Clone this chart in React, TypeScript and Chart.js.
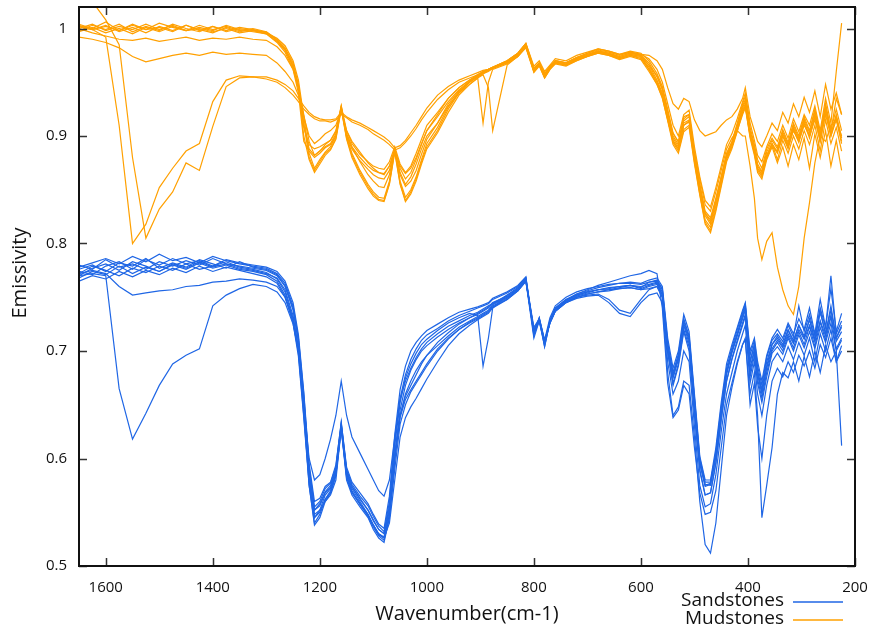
import React, { useEffect, useRef } from "react";
import { Chart, registerables } from "chart.js";
Chart.register(...registerables);

// Wavenumber grid (cm-1), shared by every spectrum
const WN = [
  1650, 1625, 1600, 1575, 1550, 1525, 1500, 1475, 1450, 1425, 1400, 1375, 1350, 1325, 1300,
  1280, 1265, 1250, 1240, 1230, 1220, 1210, 1200, 1190, 1180, 1170, 1160, 1150, 1140, 1125,
  1110, 1100, 1090, 1080, 1070, 1060, 1050, 1040, 1030, 1020, 1010, 1000,
  980, 960, 940, 920, 905, 895, 885, 877, 850, 830, 815, 800, 790, 780, 770, 760, 740, 720,
  700, 680, 660, 640, 620, 600,
  585, 570, 560, 550, 540, 530, 520, 510, 500, 490, 480, 470, 460, 450, 440, 430, 420, 410,
  405, 396, 388, 382, 374, 365, 355, 345, 335, 325, 315, 305, 295, 285, 275, 265, 255, 245, 235, 225,
];

const X_TICKS = [1600, 1400, 1200, 1000, 800, 600, 400, 200];
const Y_TICKS = [0.5, 0.6, 0.7, 0.8, 0.9, 1];
const GROUP_NAMES = ["Sandstones", "Mudstones"];
const X_TITLE = "Wavenumber(cm-1)";
const Y_TITLE = "Emissivity";

// Sandstones
const sand1 = [
  .770, .772, .770, .665, .618, .642, .668, .688, .696, .702, .742, .752, .758, .762, .760,
  .755, .745, .725, .700, .650, .600, .580, .585, .600, .618, .640, .672, .640, .620, .605, .590, .580, .570, .565, .580, .620, .655, .672, .684, .694, .702, .708,
  .716, .723, .728, .733, .736, .739, .742, .744, .752, .758, .766, .716, .728, .706, .727, .738, .746, .751, .754, .757, .757, .759, .761, .758,
  .761, .763, .753, .702, .675, .692, .724, .707, .650, .595, .575, .577, .605, .645, .678, .698, .714, .730, .738, .684, .702, .678, .660, .684, .702, .710, .703, .716, .707, .720, .711, .724, .709, .728, .714, .733, .709, .718,
];
const sand2 = [
  .772, .775, .772, .760, .752, .754, .756, .757, .760, .761, .764, .765, .767, .766, .764,
  .760, .750, .730, .702, .648, .582, .548, .552, .560, .566, .580, .628, .582, .568, .558, .548, .538, .530, .527, .552, .605, .645, .668, .682, .692, .700, .705,
  .713, .720, .726, .731, .734, .737, .740, .744, .750, .757, .766, .722, .730, .710, .726, .737, .745, .750, .753, .755, .757, .758, .759, .757,
  .758, .760, .750, .698, .668, .686, .718, .700, .640, .588, .566, .568, .596, .636, .672, .692, .708, .724, .732, .676, .696, .670, .652, .676, .698, .704, .697, .712, .700, .715, .703, .718, .702, .722, .708, .726, .700, .710,
];
const sand3 = [
  .780, .776, .785, .778, .781, .776, .783, .779, .784, .780, .786, .781, .779, .777, .775,
  .770, .760, .738, .708, .655, .590, .552, .556, .568, .573, .588, .632, .588, .574, .562, .552, .543, .534, .530, .556, .612, .652, .675, .688, .698, .706, .711,
  .719, .726, .731, .735, .733, .686, .712, .740, .752, .759, .768, .716, .731, .708, .729, .740, .748, .752, .755, .757, .759, .760, .761, .759,
  .764, .766, .758, .705, .678, .695, .728, .712, .655, .598, .576, .575, .602, .642, .680, .700, .716, .734, .742, .690, .706, .682, .664, .690, .706, .714, .706, .720, .710, .724, .714, .729, .710, .738, .716, .738, .712, .722,
];
const sand4 = [
  .768, .774, .771, .779, .772, .778, .774, .780, .776, .782, .777, .780, .776, .774, .771,
  .765, .752, .728, .698, .640, .578, .545, .552, .566, .572, .590, .630, .586, .572, .560, .548, .538, .530, .526, .540, .580, .620, .638, .648, .656, .665, .674,
  .690, .705, .716, .724, .729, .732, .735, .740, .748, .756, .765, .718, .729, .709, .727, .738, .746, .750, .752, .753, .748, .738, .735, .748,
  .757, .760, .750, .690, .660, .672, .700, .690, .630, .575, .555, .558, .585, .625, .660, .680, .700, .716, .724, .670, .690, .660, .640, .668, .690, .698, .690, .704, .692, .708, .696, .712, .690, .716, .700, .720, .690, .700,
];
const sand5 = [
  .772, .779, .775, .770, .777, .773, .779, .775, .781, .776, .779, .783, .778, .776, .773,
  .767, .755, .730, .700, .645, .575, .538, .545, .560, .568, .584, .628, .580, .566, .555, .545, .534, .526, .522, .545, .598, .640, .660, .672, .682, .690, .696,
  .705, .714, .722, .728, .732, .735, .738, .743, .750, .757, .765, .720, .729, .708, .726, .737, .745, .749, .751, .752, .745, .735, .732, .745,
  .752, .754, .745, .680, .640, .648, .672, .668, .620, .560, .520, .512, .540, .590, .640, .666, .688, .706, .710, .660, .680, .640, .545, .575, .610, .660, .680, .675, .690, .672, .695, .676, .700, .680, .705, .690, .700, .612,
];
const sand6 = [
  .778, .782, .786, .781, .788, .783, .790, .784, .787, .782, .788, .784, .781, .779, .777,
  .772, .763, .742, .712, .660, .592, .555, .560, .572, .577, .592, .634, .590, .576, .565, .556, .546, .537, .532, .560, .616, .656, .678, .692, .702, .710, .715,
  .721, .728, .733, .737, .740, .742, .744, .748, .754, .760, .768, .714, .730, .704, .728, .740, .748, .753, .756, .759, .761, .763, .764, .763,
  .766, .768, .760, .712, .684, .700, .734, .718, .660, .602, .580, .580, .610, .652, .688, .706, .722, .738, .745, .700, .712, .690, .672, .696, .712, .720, .712, .726, .716, .730, .720, .740, .716, .748, .722, .758, .718, .735,
];
const sand7 = [
  .765, .770, .767, .774, .769, .775, .771, .777, .773, .779, .774, .778, .775, .772, .769,
  .763, .750, .726, .695, .638, .575, .540, .548, .562, .570, .586, .628, .584, .570, .558, .546, .536, .528, .524, .545, .590, .632, .650, .662, .670, .678, .686,
  .700, .711, .720, .727, .731, .734, .737, .742, .749, .756, .765, .712, .728, .704, .727, .738, .747, .753, .757, .761, .764, .767, .770, .772,
  .775, .772, .740, .670, .638, .645, .668, .660, .610, .568, .548, .550, .570, .610, .650, .670, .690, .706, .712, .650, .670, .630, .600, .640, .672, .684, .676, .690, .680, .696, .686, .700, .684, .706, .694, .712, .690, .705,
];
const sand8 = [
  .774, .771, .779, .783, .776, .785, .780, .786, .781, .784, .779, .785, .782, .780, .778,
  .774, .765, .745, .715, .662, .595, .560, .563, .574, .578, .594, .633, .592, .578, .568, .558, .548, .539, .535, .565, .622, .664, .686, .700, .708, .714, .719,
  .725, .731, .736, .739, .741, .743, .745, .749, .755, .761, .769, .718, .731, .710, .731, .742, .750, .755, .758, .760, .762, .763, .763, .762,
  .764, .765, .757, .708, .680, .697, .730, .714, .657, .600, .578, .578, .606, .648, .684, .703, .720, .736, .744, .696, .710, .686, .668, .694, .710, .716, .709, .724, .713, .742, .718, .734, .714, .740, .722, .770, .716, .728,
];
const sand9 = [
  .776, .780, .774, .782, .779, .786, .777, .782, .778, .785, .781, .777, .783, .778, .776,
  .771, .761, .740, .710, .656, .588, .552, .558, .569, .575, .590, .631, .588, .574, .563, .552, .542, .534, .530, .552, .602, .640, .658, .668, .678, .688, .696,
  .708, .717, .725, .731, .735, .738, .741, .745, .751, .758, .767, .716, .729, .707, .728, .739, .747, .752, .755, .757, .758, .760, .761, .760,
  .762, .764, .755, .704, .676, .694, .726, .710, .652, .596, .574, .576, .604, .644, .680, .700, .716, .732, .740, .690, .706, .680, .662, .686, .706, .712, .704, .719, .708, .724, .712, .730, .710, .736, .716, .742, .712, .724,
];
const sand10 = [
  .770, .777, .781, .775, .783, .779, .774, .781, .777, .783, .778, .781, .777, .775, .772,
  .768, .757, .733, .703, .650, .582, .545, .550, .562, .568, .585, .629, .584, .569, .557, .547, .538, .529, .526, .548, .600, .638, .655, .664, .672, .680, .688,
  .702, .712, .720, .726, .730, .733, .736, .741, .748, .756, .765, .720, .729, .709, .726, .737, .745, .750, .753, .755, .756, .758, .759, .757,
  .760, .762, .752, .700, .670, .688, .720, .704, .645, .590, .566, .568, .596, .636, .672, .693, .710, .726, .734, .680, .700, .674, .656, .680, .700, .708, .700, .714, .703, .718, .706, .723, .704, .727, .710, .732, .702, .712,
];

// Mudstones
const mud1 = [
  1.002, .999, .992, .910, .800, .818, .852, .870, .886, .893, .932, .952, .956, .955, .955,
  .952, .948, .942, .935, .928, .922, .918, .916, .915, .915, .916, .922, .918, .915, .912, .908, .905, .902, .899, .895, .889, .891, .896, .903, .910, .918, .926,
  .938, .946, .952, .956, .959, .961, .962, .964, .969, .975, .983, .962, .967, .957, .964, .969, .967, .972, .975, .978, .976, .972, .975, .972,
  .962, .950, .938, .918, .898, .890, .912, .915, .880, .855, .830, .824, .842, .862, .882, .893, .908, .922, .928, .902, .887, .872, .866, .882, .893, .878, .896, .884, .900, .888, .905, .892, .910, .886, .915, .893, .908, .886,
];
const mud2 = [
  1.030, 1.025, 1.008, .985, .880, .805, .832, .848, .875, .868, .909, .946, .954, .955, .953,
  .950, .945, .938, .932, .925, .920, .916, .914, .914, .913, .915, .920, .917, .913, .910, .906, .902, .899, .896, .892, .887, .889, .894, .900, .907, .915, .922,
  .934, .943, .950, .954, .957, .959, .961, .963, .968, .974, .982, .960, .966, .955, .963, .968, .966, .971, .974, .977, .975, .971, .974, .971,
  .960, .948, .935, .915, .895, .888, .910, .913, .878, .852, .828, .822, .840, .860, .880, .890, .905, .920, .926, .900, .885, .870, .864, .880, .890, .886, .900, .890, .905, .895, .910, .900, .915, .895, .920, .900, .915, .893,
];
const mud3 = [
  .992, .990, .987, .982, .974, .969, .972, .975, .977, .975, .978, .976, .977, .976, .975,
  .968, .960, .950, .938, .918, .900, .893, .897, .902, .905, .910, .924, .905, .895, .885, .875, .870, .866, .864, .872, .887, .872, .865, .870, .880, .893, .905,
  .920, .935, .945, .952, .957, .960, .962, .964, .970, .977, .986, .965, .970, .960, .966, .972, .970, .975, .978, .981, .979, .976, .978, .976,
  .975, .970, .962, .945, .930, .925, .935, .932, .915, .905, .900, .902, .904, .910, .915, .918, .925, .935, .945, .918, .905, .895, .890, .900, .912, .905, .922, .912, .930, .918, .936, .922, .942, .918, .948, .925, .940, .920,
];
const mud4 = [
  1.000, .996, .993, .990, .989, .991, .988, .990, .992, .989, .991, .990, .992, .990, .989,
  .983, .975, .962, .945, .920, .895, .882, .886, .892, .896, .904, .926, .902, .890, .876, .864, .858, .853, .852, .864, .886, .864, .853, .858, .868, .883, .897,
  .912, .930, .942, .950, .955, .958, .960, .963, .968, .975, .984, .963, .968, .958, .964, .970, .968, .973, .976, .979, .977, .973, .976, .974,
  .966, .956, .944, .922, .902, .895, .918, .920, .886, .860, .836, .830, .848, .868, .888, .898, .905, .900, .900, .872, .842, .805, .785, .802, .810, .778, .757, .742, .734, .760, .805, .838, .875, .900, .895, .910, .915, .900,
];
const mud5 = [
  1.004, 1.000, 1.006, .998, 1.003, .999, 1.005, 1.001, .998, 1.003, .999, 1.002, .998, 1.000, .997,
  .990, .982, .968, .948, .912, .880, .868, .876, .884, .888, .898, .926, .898, .882, .866, .853, .846, .841, .840, .856, .886, .856, .840, .848, .860, .876, .890,
  .905, .925, .940, .950, .955, .958, .961, .963, .969, .976, .985, .960, .967, .955, .963, .968, .966, .971, .975, .979, .977, .974, .977, .975,
  .966, .952, .940, .918, .896, .888, .910, .914, .878, .848, .822, .815, .835, .858, .880, .892, .908, .926, .932, .902, .886, .870, .864, .882, .893, .885, .902, .890, .908, .896, .914, .900, .920, .897, .926, .902, .920, .898,
];
const mud6 = [
  .998, 1.003, .999, 1.004, .997, 1.002, .998, 1.004, 1.000, .997, 1.002, .998, 1.001, .999, .996,
  .991, .984, .970, .952, .918, .884, .870, .878, .885, .890, .900, .928, .900, .884, .868, .855, .848, .843, .842, .858, .888, .858, .843, .850, .862, .878, .893,
  .908, .927, .941, .951, .956, .959, .962, .964, .970, .977, .986, .962, .968, .957, .965, .970, .968, .973, .977, .981, .979, .976, .979, .977,
  .970, .958, .946, .925, .903, .894, .916, .920, .884, .855, .828, .820, .840, .862, .884, .895, .912, .930, .937, .908, .892, .878, .870, .888, .898, .890, .906, .894, .912, .900, .918, .905, .925, .902, .930, .906, .925, .905,
];
const mud7 = [
  1.002, .999, 1.003, .997, 1.001, .996, 1.002, .998, 1.003, .999, .996, 1.001, .997, .999, .996,
  .989, .980, .964, .944, .910, .888, .882, .886, .890, .893, .902, .927, .902, .890, .880, .872, .868, .866, .865, .872, .888, .870, .860, .866, .878, .892, .905,
  .918, .932, .943, .951, .956, .959, .961, .963, .969, .976, .985, .961, .967, .956, .964, .969, .967, .972, .976, .979, .977, .974, .977, .975,
  .968, .955, .943, .922, .900, .892, .914, .918, .882, .852, .826, .818, .838, .860, .882, .894, .910, .928, .934, .905, .890, .874, .867, .885, .896, .888, .904, .892, .910, .898, .916, .903, .923, .900, .928, .904, .935, .920,
];
const mud8 = [
  1.000, 1.004, .998, 1.002, .999, 1.004, .999, 1.003, .998, 1.001, .998, 1.003, .999, .997, .995,
  .987, .978, .962, .940, .895, .886, .880, .884, .889, .892, .900, .926, .900, .888, .877, .869, .864, .861, .860, .868, .887, .866, .855, .862, .874, .888, .900,
  .912, .928, .940, .948, .954, .912, .950, .962, .967, .974, .983, .959, .965, .954, .962, .967, .965, .970, .974, .977, .975, .972, .975, .973,
  .964, .950, .938, .916, .894, .886, .906, .910, .876, .846, .820, .812, .832, .855, .878, .890, .906, .924, .930, .900, .884, .868, .862, .880, .892, .884, .900, .888, .906, .894, .912, .898, .918, .895, .924, .900, .918, .895,
];
const mud9 = [
  .997, 1.001, .996, 1.000, .995, 1.001, .997, 1.002, .998, 1.000, .997, 1.000, .996, .998, .995,
  .988, .980, .966, .946, .900, .878, .866, .874, .882, .887, .897, .925, .897, .880, .864, .851, .844, .840, .839, .855, .885, .855, .839, .846, .858, .874, .888,
  .903, .922, .938, .948, .954, .957, .945, .905, .966, .974, .984, .960, .966, .954, .962, .968, .966, .970, .974, .978, .976, .973, .976, .974,
  .962, .948, .936, .914, .892, .884, .904, .908, .874, .845, .818, .810, .830, .853, .876, .888, .904, .922, .928, .898, .882, .866, .860, .878, .890, .875, .890, .872, .892, .878, .898, .870, .902, .880, .905, .872, .896, .868,
];
const mud10 = [
  1.003, .999, 1.002, .998, 1.004, .999, 1.001, .997, 1.003, .998, 1.002, .997, 1.000, .998, .997,
  .989, .981, .965, .944, .908, .892, .888, .890, .893, .896, .905, .928, .905, .893, .883, .876, .872, .870, .869, .876, .890, .874, .866, .872, .884, .897, .910,
  .922, .935, .945, .952, .957, .960, .962, .964, .970, .977, .986, .963, .968, .958, .965, .970, .968, .973, .977, .980, .978, .975, .978, .976,
  .972, .962, .950, .930, .910, .900, .920, .924, .890, .862, .840, .834, .852, .872, .892, .902, .916, .932, .940, .912, .896, .882, .876, .890, .902, .895, .910, .898, .916, .904, .920, .910, .928, .905, .935, .912, .960, 1.005,
];

const SAND = [sand1, sand2, sand3, sand4, sand5, sand6, sand7, sand8, sand9, sand10];
const MUD = [mud1, mud2, mud3, mud4, mud5, mud6, mud7, mud8, mud9, mud10];

const BLUE = "#1f66e5";
const ORANGE = "#ffa000";
const FONT = "'Open Sans', 'DejaVu Sans', sans-serif";

const toPoints = (vals: number[]) =>
  WN.slice(0, vals.length).map((w, i) => ({ x: w, y: vals[i] }));

const framePlugin = {
  id: "frameTicks",
  afterDatasetsDraw(chart: any) {
    const { ctx, chartArea: a, scales } = chart;
    const x = scales.x;
    const y = scales.y;
    ctx.save();
    ctx.strokeStyle = "#333";
    ctx.lineWidth = 1.5;
    ctx.beginPath();
    x.ticks.forEach((t: any) => {
      const px = Math.round(x.getPixelForValue(t.value)) + 0.5;
      ctx.moveTo(px, a.bottom);
      ctx.lineTo(px, a.bottom - 8);
      ctx.moveTo(px, a.top);
      ctx.lineTo(px, a.top + 8);
    });
    y.ticks.forEach((t: any) => {
      const py = Math.round(y.getPixelForValue(t.value)) + 0.5;
      ctx.moveTo(a.left, py);
      ctx.lineTo(a.left + 8, py);
      ctx.moveTo(a.right, py);
      ctx.lineTo(a.right - 8, py);
    });
    ctx.stroke();
    ctx.strokeStyle = "#111";
    ctx.lineWidth = 2;
    ctx.strokeRect(a.left, a.top, a.right - a.left, a.bottom - a.top);
    ctx.restore();
  },
};

const textPlugin = {
  id: "cornerLegendAndYTitle",
  afterDraw(chart: any) {
    const { ctx } = chart;
    ctx.save();
    // y-axis title
    ctx.font = `20px ${FONT}`;
    ctx.fillStyle = "#111";
    ctx.textAlign = "center";
    ctx.textBaseline = "middle";
    ctx.translate(20, 273);
    ctx.rotate(-Math.PI / 2);
    ctx.fillText(Y_TITLE, 0, 0);
    ctx.restore();

    ctx.save();
    ctx.font = `19px ${FONT}`;
    ctx.textAlign = "right";
    ctx.textBaseline = "middle";
    const items = [
      { label: GROUP_NAMES[0], color: BLUE },
      { label: GROUP_NAMES[1], color: ORANGE },
    ];
    items.forEach((it, i) => {
      const yy = 601 + i * 18;
      ctx.fillStyle = "#111";
      ctx.fillText(it.label, 784, yy);
      ctx.strokeStyle = it.color;
      ctx.lineWidth = 1.5;
      ctx.beginPath();
      ctx.moveTo(793, yy + 1);
      ctx.lineTo(843, yy + 1);
      ctx.stroke();
    });
    ctx.restore();
  },
};

export default function App() {
  const ref = useRef<HTMLCanvasElement>(null);
  useEffect(() => {
    if (!ref.current) return;
    const datasets = [
      ...SAND.map((s) => ({
        label: GROUP_NAMES[0],
        data: toPoints(s),
        borderColor: BLUE,
        backgroundColor: BLUE,
        borderWidth: 1.2,
        pointRadius: 0,
        fill: false,
      })),
      ...MUD.map((s) => ({
        label: GROUP_NAMES[1],
        data: toPoints(s),
        borderColor: ORANGE,
        backgroundColor: ORANGE,
        borderWidth: 1.2,
        pointRadius: 0,
        fill: false,
      })),
    ];
    const chart = new Chart(ref.current, {
      type: "line",
      data: { datasets },
      options: {
        animation: false,
        responsive: false,
        devicePixelRatio: 1,
        layout: { padding: { left: 0, right: 19, top: 7, bottom: 0 } },
        plugins: { legend: { display: false }, tooltip: { enabled: false } },
        elements: { line: { tension: 0 } },
        scales: {
          x: {
            type: "linear",
            reverse: true,
            min: 200,
            max: 1650,
            afterBuildTicks: (s: any) => {
              s.ticks = X_TICKS.map((v) => ({ value: v }));
            },
            afterFit: (s: any) => {
              s.height = 68;
              s.paddingLeft = 0;
              s.paddingRight = 0;
            },
            grid: { display: false, drawTicks: false },
            border: { display: false },
            ticks: {
              autoSkip: false,
              maxRotation: 0,
              padding: 13,
              color: "#111",
              font: { family: FONT, size: 15 },
              callback: (v: any) => String(v),
            },
            title: {
              display: true,
              text: X_TITLE,
              color: "#111",
              font: { family: FONT, size: 20 },
              padding: { top: 0, bottom: 8 },
            },
          },
          y: {
            type: "linear",
            min: 0.5,
            max: 1.02,
            afterBuildTicks: (s: any) => {
              s.ticks = Y_TICKS.map((v) => ({ value: v }));
            },
            afterFit: (s: any) => {
              s.width = 79;
              s.paddingTop = 0;
              s.paddingBottom = 0;
            },
            grid: { display: false, drawTicks: false },
            border: { display: false },
            ticks: {
              padding: 12,
              color: "#111",
              font: { family: FONT, size: 15 },
              callback: (v: any) => String(Math.round(Number(v) * 10) / 10),
            },
            title: { display: false },
          },
        },
      },
      plugins: [framePlugin, textPlugin],
    } as any);
    return () => chart.destroy();
  }, []);
  return (
    <div style={{ position: "absolute", left: 0, top: 0, width: 874, height: 634, background: "#fff" }}>
      <canvas ref={ref} width={874} height={634} style={{ display: "block", width: 874, height: 634 }} />
    </div>
  );
}
